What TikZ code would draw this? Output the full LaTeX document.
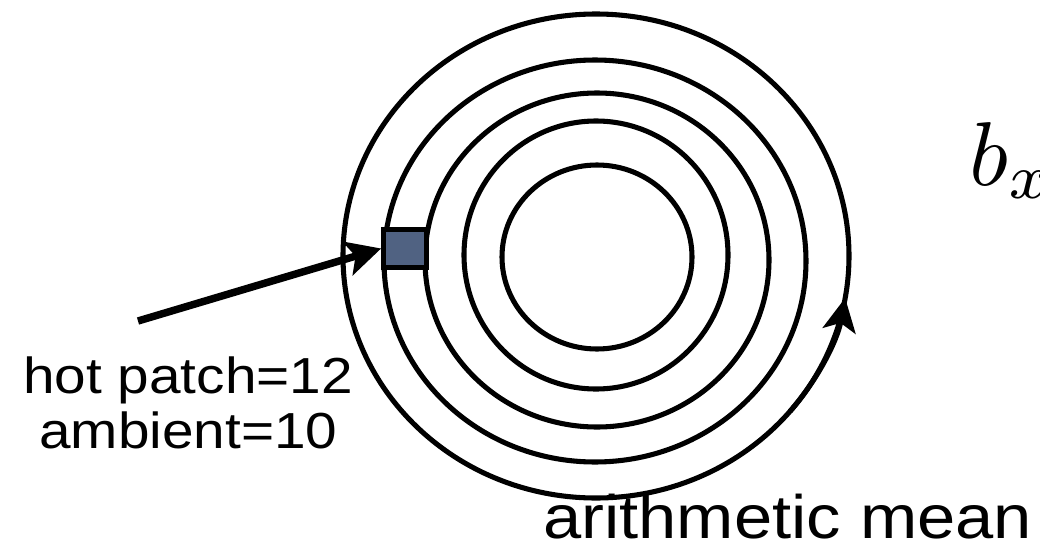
\documentclass[tikz,border=0pt]{standalone}
\usepackage{fontspec}
\newfontfamily\labelfont[FakeStretch=1.12]{Liberation Sans}
\usetikzlibrary{arrows.meta}
\definecolor{patchblue}{RGB}{80,98,130}

\begin{document}
\begin{tikzpicture}[x=0.75pt,y=-0.75pt,
  ring/.style={line width=3.8pt},
  patchbox/.style={draw,line width=3.8pt,fill=patchblue,minimum width=32pt,minimum height=28pt,inner sep=0pt},
  labeltext/.style={inner sep=0pt,anchor=base west,font=\labelfont}]
\useasboundingbox (0,0) rectangle (1040,543);
\foreach \cx/\cy/\rx/\ry in {596/256/253/242,595/261/211/201,597/260/172/167,596/255/132/134,597/257/95/92}
  \draw[ring] (\cx,\cy) ellipse [x radius=\rx, y radius=\ry];
\draw[ring,-{Stealth[length=25pt,width=25pt,inset=6pt]}] ({596+253*cos(40)},{256+242*sin(40)}) arc[start angle=40,end angle=10,x radius=253,y radius=242];
\node[patchbox] (patch) at (405,248.5) {};
\coordinate (arrowstart) at (138,321);
\draw[line width=5.6pt,-{Stealth[length=26pt,width=26pt,inset=6pt]}] (arrowstart) -- (patch.west);
\node[labeltext,font=\labelfont\fontsize{38}{46}\selectfont] (hot) at (23,393) {hot patch=12};
\node[labeltext,font=\labelfont\fontsize{38}{46}\selectfont] (ambient) at (39,448) {ambient=10};
\node[labeltext,font=\labelfont\fontsize{46}{54}\selectfont] (mean) at (543,538) {arithmetic mean};
\node[inner sep=0pt,anchor=base west,scale=6.8] (bx) at (968,185) {$b_x$};
\end{tikzpicture}
\end{document}
